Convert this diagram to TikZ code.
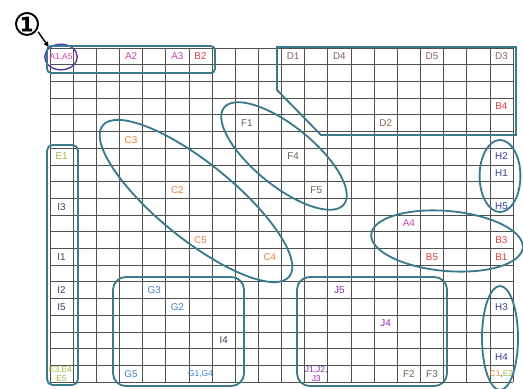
\documentclass[tikz,border=0pt]{standalone}
\usepackage{fontspec}
\setmainfont{Liberation Sans}
\newfontfamily\symfont[FakeBold=2]{DejaVu Sans}
\usepackage{xcolor}
\usepackage{tikz}
\usetikzlibrary{arrows.meta,calc,positioning,shapes.geometric}

\definecolor{grp}{RGB}{58,122,140}
\definecolor{circpur}{RGB}{88,58,160}
\definecolor{gridc}{RGB}{80,80,80}
\definecolor{colA}{RGB}{204,64,170}
\definecolor{colB}{RGB}{226,62,62}
\definecolor{colC}{RGB}{238,128,60}
\definecolor{colD}{RGB}{140,98,88}
\definecolor{colE}{RGB}{150,186,60}
\definecolor{colF}{RGB}{95,105,82}
\definecolor{colG}{RGB}{62,128,200}
\definecolor{colH}{RGB}{50,62,150}
\definecolor{colI}{RGB}{62,62,92}
\definecolor{colJ}{RGB}{140,40,160}

\tikzset{
  cellgrid/.style={gridc, line width=0.45pt},
  grpline/.style={grp, line width=1.3pt},
  lbl/.style={font=\fontsize{7}{8}\selectfont, inner sep=0pt},
  lblsmall/.style={font=\fontsize{6}{6.4}\selectfont, inner sep=0pt, align=center},
}

\begin{document}
\begin{tikzpicture}[>=Latex, x=0.025cm, y=-0.025cm]
  \useasboundingbox (0,0) rectangle (523,388);
  \fill[white] (0,0) rectangle (523,388);
  \foreach \i in {0,...,20} {
    \draw[cellgrid] ({50+23.15*\i},48) -- ({50+23.15*\i},382);
    \draw[cellgrid] (50,{48+16.7*\i}) -- (513,{48+16.7*\i});
  }
  \foreach \nm/\c/\r/\col in {A2/4/1/colA, A3/6/1/colA, B2/7/1/colB, D1/11/1/colD,
      D4/13/1/colD, D5/17/1/colD, D3/20/1/colD, B4/20/4/colB, F1/9/5/colF,
      D2/15/5/colD, C3/4/6/colC, E1/1/7/colE, F4/11/7/colF, H2/20/7/colH,
      H1/20/8/colH, C2/6/9/colC, F5/12/9/colF, I3/1/10/colI, H5/20/10/colH,
      A4/16/11/colA, C5/7/12/colC, B3/20/12/colB, I1/1/13/colI, C4/10/13/colC,
      B5/17/13/colB, B1/20/13/colB, I2/1/15/colI, G3/5/15/colG, J5/13/15/colJ,
      I5/1/16/colI, G2/6/16/colG, H3/20/16/colH, J4/15/17/colJ, I4/8/18/colI,
      H4/20/19/colH, G5/4/20/colG, F2/16/20/colF, F3/17/20/colF}
    \node[lbl, text=\col] (\nm) at ({50+23.15*(\c-0.5)},{48+16.7*(\r-0.5)}) {\nm};
  \node[lblsmall, text=colG] (G1G4) at ({50+23.15*6.5},{48+16.7*19.5}) {G1,G4};
  \node[lblsmall, text=colE] (E3E5) at ({50+23.15*0.5},{48+16.7*19.5}) {E3,E4,\\E5};
  \node[lblsmall, text=colJ] (J1J3) at ({50+23.15*11.5},{48+16.7*19.5}) {J1,J2,\\J3};
  \node[lblsmall] (C1E2) at ({50+23.15*19.5},{48+16.7*19.5}) {\textcolor{colC}{C1},\textcolor{colE}{E2}};

  \node[lblsmall, text=colA, ellipse, draw=circpur, line width=1pt,
    minimum width=0.72cm, minimum height=0.64cm] (A1A5) at (61,57) {A1,A5};
  \node[font=\symfont\fontsize{22}{22}\selectfont, inner sep=0pt] (num) at (27,24) {①};
  \draw[-{Latex[length=4pt,width=4pt]}, line width=1pt] ($(num.south east)+(-3,-4)$) -- (A1A5.north west);

  \draw[grpline, rounded corners=3pt] (47,46) rectangle (215,73);
  \draw[grpline] (277,47) -- (516,47) -- (516,135) -- (321,135) -- (277,90) -- cycle;
  \draw[grpline, rounded corners=4pt] (47,145) rectangle (78,385);
  \draw[grpline, rounded corners=9pt] (113,277) rectangle (244,386);
  \draw[grpline, rounded corners=9pt] (297,277) rectangle (447,386);

  \coordinate (Cc) at (196,201);
  \coordinate (Fc) at (284,156);
  \coordinate (Hc) at (500,176);
  \coordinate (Bc) at (447,241);
  \coordinate (Hd) at (500,338);
  \draw[grpline, rotate around={-39:(Cc)}] (Cc) ellipse [x radius=3cm, y radius=0.95cm];
  \draw[grpline, rotate around={-39:(Fc)}] (Fc) ellipse [x radius=1.925cm, y radius=0.75cm];
  \draw[grpline] (Hc) ellipse [x radius=0.51cm, y radius=0.9cm];
  \draw[grpline, rotate around={-5:(Bc)}] (Bc) ellipse [x radius=1.9cm, y radius=0.75cm];
  \draw[grpline] (Hd) ellipse [x radius=0.45cm, y radius=1.3cm];
\end{tikzpicture}
\end{document}
